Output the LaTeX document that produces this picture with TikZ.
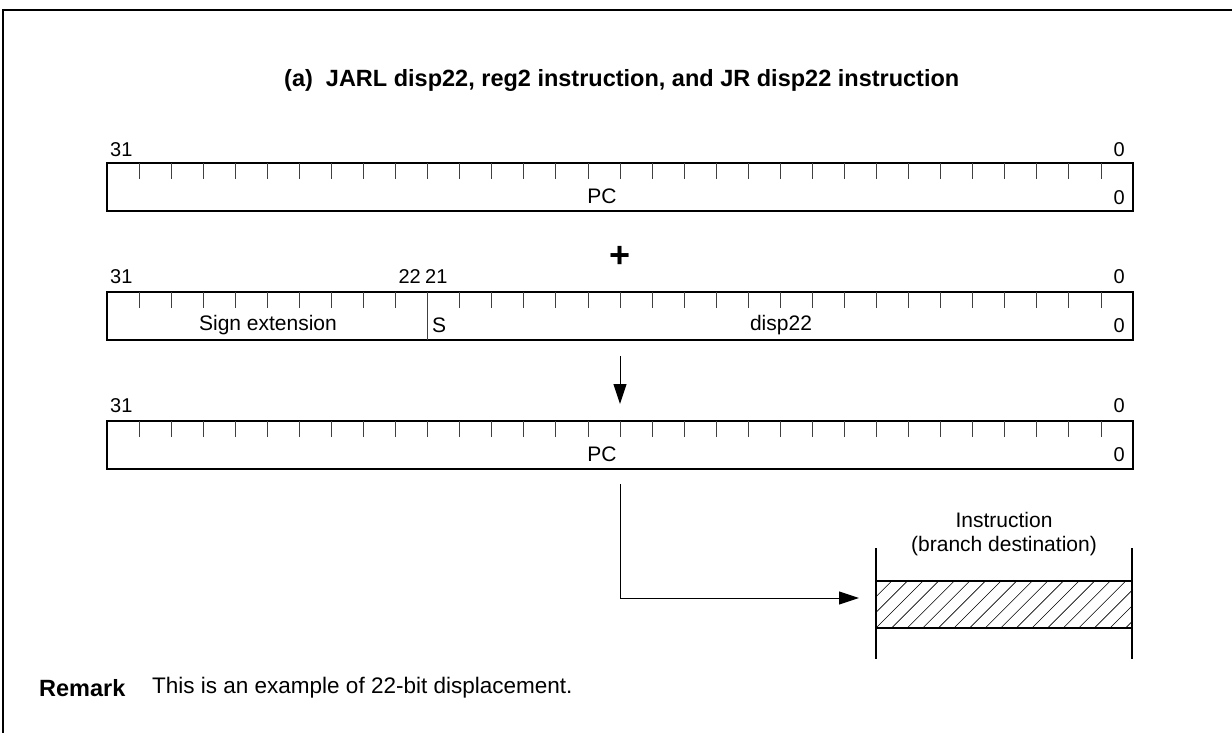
\documentclass[tikz,border=0pt]{standalone}
\usepackage{fontspec}
\setmainfont{Liberation Sans}
\usetikzlibrary{arrows.meta}
\tikzset{
  reg/.style={draw, line width=2pt, minimum width=1026pt, minimum height=48pt, inner sep=0pt, outer sep=0pt},
  tick/.style={draw=black!75, line width=0.8pt},
  lbl/.style={inner sep=0pt, font=\fontsize{21}{24}\selectfont},
  num/.style={inner sep=0pt, font=\fontsize{20}{24}\selectfont},
  big/.style={inner sep=0pt, font=\fontsize{22.5}{26}\selectfont},
  bigb/.style={inner sep=0pt, font=\fontsize{23.5}{27}\selectfont\bfseries},
  arr/.style={line width=1pt, -{Triangle[length=20pt,width=13pt]}},
  bar/.style={line width=2pt},
}
\begin{document}
\begin{tikzpicture}[x=1pt,y=-1pt]
\useasboundingbox (0,0) rectangle (1232,733);
% frame
\draw[line width=2.5pt] (3,733) -- (3,10) -- (1232,10);
% title
\node[bigb, anchor=west] (title) at (284,80) {(a)\ \ JARL disp22, reg2 instruction, and JR disp22 instruction};
% register 1
\node[reg] (r1) at (620,187) {};
\foreach \k in {1,...,31} \draw[tick] ([xshift=\k*32.0625pt]r1.north west) -- ++(0,16);
\node[num, anchor=west] (r1h) at (110,150) {31};
\node[num, anchor=east] (r1l) at (1125,150) {0};
\node[num, anchor=east] (r1z) at (1125,198) {0};
\node[lbl] (r1pc) at (602,196) {PC};
% plus
\node[inner sep=0pt, font=\fontsize{36}{38}\selectfont\bfseries] (plus) at (620,257) {+};
% register 2
\node[reg] (r2) at (620,316) {};
\foreach \k in {1,...,9,11,12,...,31} \draw[tick] ([xshift=\k*32.0625pt]r2.north west) -- ++(0,16);
\draw[tick] ([xshift=320.625pt]r2.north west) -- ([xshift=320.625pt]r2.south west);
\node[num, anchor=west] (r2h) at (110,277) {31};
\node[num, anchor=east] (r2a) at (421,277) {22};
\node[num, anchor=west] (r2b) at (425,277) {21};
\node[num, anchor=east] (r2l) at (1125,277) {0};
\node[num, anchor=east] (r2z) at (1125,326) {0};
\node[lbl] (se) at (268,325) {Sign extension};
\node[lbl, anchor=west] (s) at (432,325) {S};
\node[lbl] (disp) at (781,325) {disp22};
% arrow down
\coordinate (d1) at (620,356);
\coordinate (d2) at (620,404);
\draw[arr] (d1) -- (d2);
% register 3
\node[reg] (r3) at (620,445) {};
\foreach \k in {1,...,31} \draw[tick] ([xshift=\k*32.0625pt]r3.north west) -- ++(0,16);
\node[num, anchor=west] (r3h) at (110,406) {31};
\node[num, anchor=east] (r3l) at (1125,406) {0};
\node[num, anchor=east] (r3z) at (1125,455) {0};
\node[lbl] (r3pc) at (602,454) {PC};
% branch connector
\coordinate (b1) at (620,484);
\coordinate (b2) at (859,598);
\draw[arr] (b1) |- (b2);
% instruction box
\node[draw, line width=2pt, minimum width=256pt, minimum height=47pt, inner sep=0pt, outer sep=0pt] (ib) at (1004,604.5) {};
\begin{scope}
\clip (ib.south west) rectangle (ib.north east);
\foreach \i in {-4,...,18} \draw[line width=0.6pt] (876+\i*15.6, 628) -- ++(47,-47);
\end{scope}
\draw[bar] (876,548) -- (876,659);
\draw[bar] (1132,548) -- (1132,659);
\node[lbl, align=center, anchor=south] (ibt) at (1004,556) {Instruction\\(branch destination)};
% remark
\node[bigb, anchor=west] (rem) at (39,688) {Remark};
\node[big, anchor=west] (remt) at (152,688) {This is an example of 22-bit displacement.};
\end{tikzpicture}
\end{document}
